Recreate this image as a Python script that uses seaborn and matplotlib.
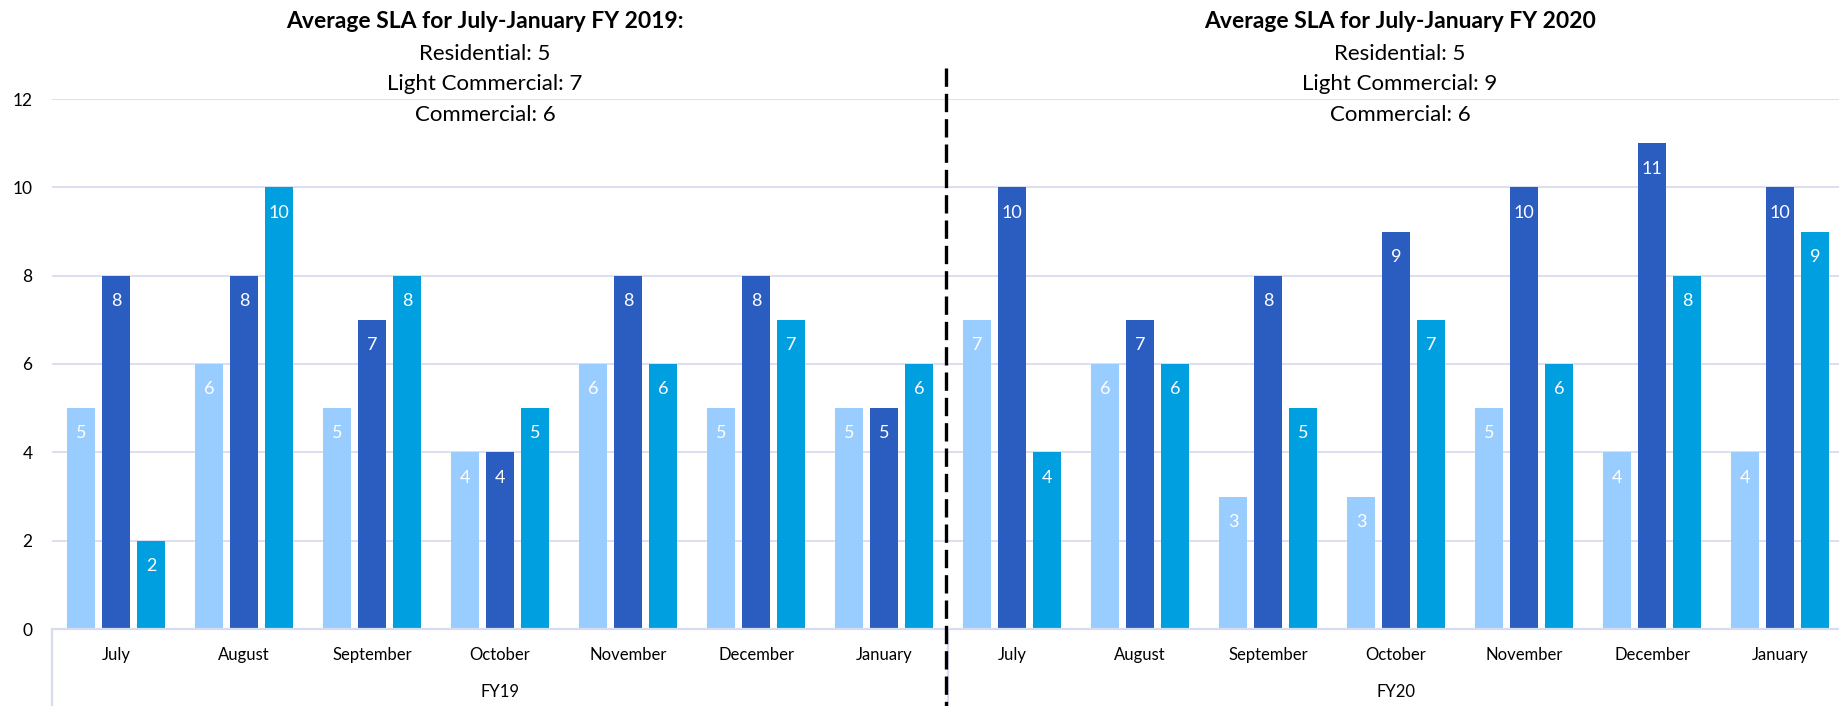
import pandas as pd
import seaborn as sns
import matplotlib.pyplot as plt
import matplotlib.transforms as mtransforms

# DATA
MONTHS = ["July", "August", "September", "October", "November", "December", "January"]
FISCAL_YEARS = ["FY19", "FY20"]
SERIES = ["Residential", "Light Commercial", "Commercial"]

residential_fy19 = [5, 6, 5, 4, 6, 5, 5]
light_commercial_fy19 = [8, 8, 7, 4, 8, 8, 5]
commercial_fy19 = [2, 10, 8, 5, 6, 7, 6]

residential_fy20 = [7, 6, 3, 3, 5, 4, 4]
light_commercial_fy20 = [10, 7, 8, 9, 10, 11, 10]
commercial_fy20 = [4, 6, 5, 7, 6, 8, 9]

TITLE_FY19 = ["Average SLA for July-January FY 2019:", "Residential: 5",
              "Light Commercial: 7", "Commercial: 6"]
TITLE_FY20 = ["Average SLA for July-January FY 2020", "Residential: 5",
              "Light Commercial: 9", "Commercial: 6"]

COLORS = ["#99CCFF", "#2B5CC0", "#009FDF"]
GRID_COLOR = "#D9DCEE"


def build_frame():
    values = {
        "FY19": [residential_fy19, light_commercial_fy19, commercial_fy19],
        "FY20": [residential_fy20, light_commercial_fy20, commercial_fy20],
    }
    rows = []
    for fy in FISCAL_YEARS:
        for s_idx, s in enumerate(SERIES):
            for m_idx, m in enumerate(MONTHS):
                rows.append({"period": f"{fy} {m}", "series": s,
                             "value": values[fy][s_idx][m_idx]})
    return pd.DataFrame(rows)


def main():
    df = build_frame()
    order = [f"{fy} {m}" for fy in FISCAL_YEARS for m in MONTHS]

    sns.set_theme(style="white")
    plt.rcParams["font.family"] = ["Lato", "DejaVu Sans"]

    fig = plt.figure(figsize=(18.4, 7.06), dpi=100)
    ax = fig.add_axes([52 / 1840, 77 / 706, 1792 / 1840, 530 / 706])

    sns.barplot(data=df, x="period", y="value", hue="series", order=order,
                hue_order=SERIES, palette=COLORS, saturation=1, width=0.82,
                gap=0.21, legend=False, linewidth=0, ax=ax)

    # white value labels inside bar tops
    for cont in ax.containers:
        ax.bar_label(cont, fmt="%d", padding=-24, color="white", fontsize=13)

    ax.set_xlim(-0.5, len(order) - 0.5)
    ax.set_ylim(0, 12)
    ax.set_yticks(range(0, 13, 2))
    ax.yaxis.grid(True, color=GRID_COLOR, lw=1.3)
    ax.set_axisbelow(True)
    for side in ["top", "right", "left"]:
        ax.spines[side].set_visible(False)
    ax.spines["bottom"].set_color(GRID_COLOR)
    ax.spines["bottom"].set_linewidth(1.6)

    ax.set_xticks(range(len(order)))
    ax.set_xticklabels(MONTHS * len(FISCAL_YEARS))
    ax.tick_params(axis="x", length=0, pad=13, labelsize=12, labelcolor="#000000")
    ax.tick_params(axis="y", length=0, pad=14, labelsize=12.5, labelcolor="#000000")
    ax.set_xlabel("")
    ax.set_ylabel("")

    trans = mtransforms.blended_transform_factory(ax.transData, ax.transAxes)
    n = len(MONTHS)
    for i, fy in enumerate(FISCAL_YEARS):
        ax.text(i * n + (n - 1) / 2, -0.119, fy, transform=trans, ha="center",
                va="center", fontsize=12, color="#000000")

    # category separators below the axis
    for xpos in [-0.5, n - 0.5, 2 * n - 0.5]:
        ax.plot([xpos, xpos], [0, -0.15], transform=trans, color=GRID_COLOR,
                lw=1.6, clip_on=False)

    # dashed divider between fiscal years
    ax.plot([n - 0.5 - 0.015, n - 0.5 - 0.015], [1.058, -0.15], transform=trans,
            color="black", lw=2.4, dashes=(5.5, 2.1), clip_on=False, zorder=5)

    # titles
    line_y = [21, 54, 84, 115]
    for lines, xc in [(TITLE_FY19, 485), (TITLE_FY20, 1400)]:
        for k, txt in enumerate(lines):
            fig.text(xc / 1840, 1 - line_y[k] / 706, txt, ha="center", va="center",
                     fontsize=16.5 if k == 0 else 16,
                     fontweight="bold" if k == 0 else "normal",
                     color="#000000")

    fig.savefig("out.png", dpi=100)
    plt.close(fig)


if __name__ == "__main__":
    main()
